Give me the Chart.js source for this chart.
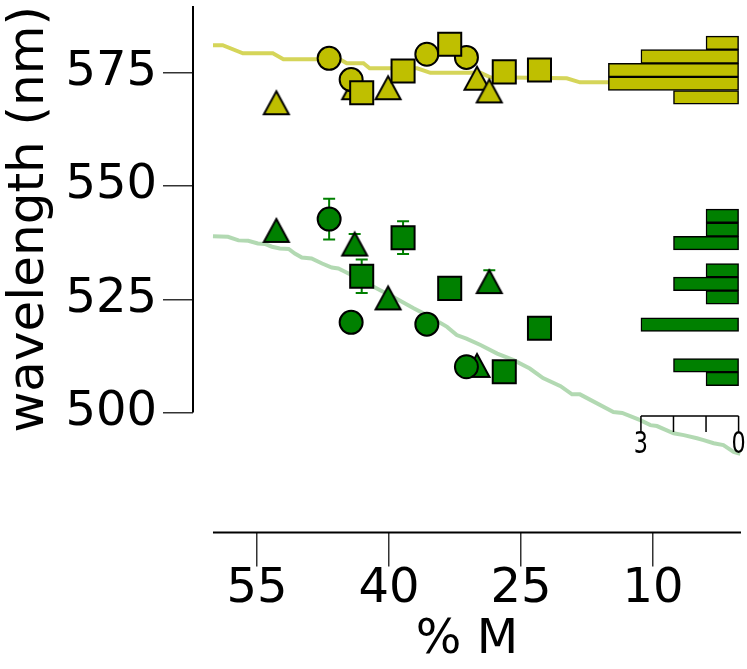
<!DOCTYPE html>
<html>
<head>
<meta charset="utf-8">
<script src="https://cdn.jsdelivr.net/npm/chart.js@4"></script>
<style>
  html, body { margin: 0; padding: 0; background: #fff; }
</style>
</head>
<body>
<canvas id="chart" width="747" height="669"></canvas>
<script>
/* ======================
   DATA
====================== */

// circles
const circleM = [46.8, 44.3, 35.7, 31.2];
const circleYellow = [578.2, 573.5, 579.1, 578.4];
const circleGreen = [542.7, 519.9, 519.5, 510.1];

// squares
const squareM = [43.1, 38.4, 33.1, 26.9, 22.9];
const squareYellow = [570.6, 575.4, 581.3, 575.2, 575.6];
const squareGreen = [530.1, 538.6, 527.4, 509.0, 518.6];

// triangles
const triangleM = [52.8, 43.9, 40.1, 30.0, 28.6];
const triangleYellow = [568.4, 571.7, 571.7, 573.8, 571.0];
const triangleGreen = [540.2, 537.2, 525.3, 510.4, 528.9];

// error bars on the green group
const errM = [46.8, 43.9, 43.1, 38.4, 28.6];
const errNm = [542.7, 537.2, 530.1, 538.6, 528.9];
const errSize = [4.5, 2.2, 3.7, 3.6, 2.5];

// model curves
const yellowLineM = [60, 58.9, 56.6, 53.2, 52.0, 45.6, 44.8, 42.9, 42.2, 36.8, 35.3, 29.6, 28.5, 19.8, 18.3, 1];
const yellowLineNm = [581.1, 581.1, 579.3, 579.3, 578.0, 578.0, 577.1, 577.1, 576.0, 576.0, 575.0, 575.0, 574.0, 573.8, 572.9, 572.9];

const greenLineM = [60, 58.3, 57.1, 56.0, 54.9, 54.1, 53.3, 52.4, 51.4, 50.7, 49.9, 48.8, 47.6, 46.5, 45.75, 44.6,
  41.0, 39.5, 37.2, 35.7, 33.4, 32.3, 31.2, 29.6, 27.7, 25.9, 24.0, 22.5, 20.5, 19.2, 18.3, 14.5, 13.5,
  11.45, 10.3, 9.55, 7.66, 6.5, 5.0, 4.25, 3.1, 2.0, 0.84, 0.08];
const greenLineNm = [538.9, 538.8, 538.0, 537.9, 537.3, 537.2, 536.6, 536.2, 536.1, 535.1, 534.2, 534.0, 532.9, 532.0, 531.8, 530.7,
  527.0, 525.5, 523.0, 521.5, 518.9, 517.1, 516.3, 514.9, 513.0, 511.6, 509.7, 507.6, 505.8, 504.0, 504.0, 500.1, 499.9,
  498.3, 497.2, 497.0, 495.4, 495.0, 494.3, 493.9, 493.2, 492.8, 491.3, 490.9];

// histograms (bin centre in nm, count)
const yellowBinNm = [569.6, 572.6, 575.6, 578.6, 581.6];
const yellowCounts = [2, 4, 4, 3, 1];
const greenBinNm = [507.4, 510.4, 519.4, 525.4, 528.4, 531.4, 537.4, 540.4, 543.4];
const greenCounts = [1, 2, 3, 1, 2, 1, 2, 1, 1];

// ticks
const ticksM = [55, 40, 25, 10];
const ticksNm = [500, 525, 550, 575];
const ticksCount = [3, 2, 1, 0];
const countAxisNm = 499.2;

/* ======================
   HELPERS
====================== */

const YELLOW = '#bfbf00';
const GREEN = '#008000';

const pts = (xs, ys) => xs.map((x, i) => ({ x, y: ys[i] }));

function triangleMark(fill) {
  const c = document.createElement('canvas');
  c.width = 30;
  c.height = 29;
  const g = c.getContext('2d');
  g.beginPath();
  g.moveTo(15, 3);
  g.lineTo(27.5, 26);
  g.lineTo(2.5, 26);
  g.closePath();
  g.fillStyle = fill;
  g.fill();
  g.lineWidth = 2;
  g.strokeStyle = '#000';
  g.stroke();
  return c;
}

function markers(label, data, fill, style, radius) {
  return {
    type: 'scatter',
    label,
    data,
    pointStyle: style,
    pointRadius: radius,
    pointHoverRadius: radius,
    backgroundColor: fill,
    borderColor: '#000',
    borderWidth: 2,
    pointBorderWidth: 2
  };
}

function histogram(label, nm, counts, fill) {
  return {
    type: 'bar',
    label,
    indexAxis: 'y',
    xAxisID: 'x2',
    yAxisID: 'y',
    data: nm.map((v, i) => ({ x: counts[i], y: v })),
    backgroundColor: fill,
    borderColor: '#000',
    borderWidth: 1.5,
    borderSkipped: false,
    barThickness: 13.6,
    grouped: false
  };
}

function curve(label, data, color) {
  return {
    type: 'line',
    label,
    data,
    borderColor: color,
    borderWidth: 4,
    pointRadius: 0,
    tension: 0,
    fill: false
  };
}

/* ======================
   PLUGINS
====================== */

const errorBars = {
  id: 'errorBars',
  beforeDatasetsDraw(chart) {
    const { ctx, scales: { x, y } } = chart;
    ctx.save();
    ctx.strokeStyle = GREEN;
    ctx.lineWidth = 2;
    errM.forEach((m, i) => {
      const px = x.getPixelForValue(m);
      const top = y.getPixelForValue(errNm[i] + errSize[i]);
      const bot = y.getPixelForValue(errNm[i] - errSize[i]);
      ctx.beginPath();
      ctx.moveTo(px, top); ctx.lineTo(px, bot);
      ctx.moveTo(px - 6, top); ctx.lineTo(px + 6, top);
      ctx.moveTo(px - 6, bot); ctx.lineTo(px + 6, bot);
      ctx.stroke();
    });
    ctx.restore();
  }
};

const spines = {
  id: 'spines',
  afterDraw(chart) {
    const { ctx, chartArea, scales: { x, y, x2 } } = chart;
    ctx.save();
    ctx.strokeStyle = '#000';
    ctx.lineWidth = 2;
    ctx.beginPath();
    ctx.moveTo(chartArea.left, y.getPixelForValue(500));
    ctx.lineTo(chartArea.left, chartArea.top);
    ctx.moveTo(x.getPixelForValue(60), chartArea.bottom);
    ctx.lineTo(x.getPixelForValue(0), chartArea.bottom);
    ctx.stroke();

    // count scale of the histograms
    const cy = y.getPixelForValue(countAxisNm);
    ctx.lineWidth = 1.5;
    ctx.beginPath();
    ctx.moveTo(x2.getPixelForValue(3), cy);
    ctx.lineTo(x2.getPixelForValue(0), cy);
    ticksCount.forEach(c => {
      const px = x2.getPixelForValue(c);
      ctx.moveTo(px, cy);
      ctx.lineTo(px, cy + 16);
    });
    ctx.stroke();
    ctx.fillStyle = '#000';
    ctx.font = '31px "DejaVu Sans Condensed", "DejaVu Sans"';
    ctx.textAlign = 'center';
    ctx.textBaseline = 'top';
    [3, 0].forEach(c => {
      const px = x2.getPixelForValue(c);
      ctx.save();
      ctx.translate(px, cy + 13);
      ctx.scale(0.8, 1);
      ctx.fillText(String(c), 0, 0);
      ctx.restore();
    });
    ctx.restore();
  }
};

/* ======================
   CHART
====================== */

Chart.defaults.font.family = '"DejaVu Sans", sans-serif';
Chart.defaults.color = '#000';

new Chart(document.getElementById('chart').getContext('2d'), {
  type: 'scatter',
  data: {
    datasets: [
      markers('green squares', pts(squareM, squareGreen), GREEN, 'rect', 16.3),
      markers('yellow squares', pts(squareM, squareYellow), YELLOW, 'rect', 16.3),
      markers('green circles', pts(circleM, circleGreen), GREEN, 'circle', 11.5),
      markers('yellow circles', pts(circleM, circleYellow), YELLOW, 'circle', 11.5),
      markers('green triangles', pts(triangleM, triangleGreen), GREEN, triangleMark(GREEN), 14),
      markers('yellow triangles', pts(triangleM, triangleYellow), YELLOW, triangleMark(YELLOW), 14),
      histogram('green counts', greenBinNm, greenCounts, GREEN),
      histogram('yellow counts', yellowBinNm, yellowCounts, YELLOW),
      curve('green model', pts(greenLineM, greenLineNm), 'rgba(0,128,0,0.3)'),
      curve('yellow model', pts(yellowLineM, yellowLineNm), 'rgba(191,191,0,0.65)')
    ]
  },
  options: {
    responsive: false,
    animation: false,
    layout: { autoPadding: false, padding: { top: 6, right: 6, left: 0, bottom: 0 } },
    plugins: {
      legend: { display: false },
      tooltip: { enabled: false }
    },
    scales: {
      x: {
        type: 'linear',
        reverse: true,
        min: 0,
        max: 62.27,
        offset: false,
        afterBuildTicks: s => { s.ticks = ticksM.map(v => ({ value: v })); },
        afterFit: s => { s.height = 136.5; s.paddingLeft = 0; s.paddingRight = 0; },
        border: { display: false },
        grid: { drawOnChartArea: false, offset: false, tickLength: 34, color: '#333', lineWidth: 1.5 },
        ticks: { autoSkip: false, maxRotation: 0, font: { size: 48 }, padding: -6 },
        title: { display: true, text: '% M', font: { size: 48 }, padding: 0 }
      },
      y: {
        type: 'linear',
        min: 473.5,
        max: 589.75,
        offset: false,
        afterBuildTicks: s => { s.ticks = ticksNm.map(v => ({ value: v })); },
        afterFit: s => { s.width = 193; s.paddingTop = 0; s.paddingBottom = 0; },
        border: { display: false },
        grid: { drawOnChartArea: false, offset: false, tickLength: 30, color: '#333', lineWidth: 1.5 },
        ticks: { autoSkip: false, font: { size: 48 }, padding: 6 },
        title: { display: true, text: 'wavelength (nm)', align: 'end', font: { size: 50 }, padding: 0 }
      },
      x2: {
        type: 'linear',
        display: false,
        reverse: true,
        min: -0.074,
        max: 16.76,
        offset: false,
        grid: { offset: false }
      }
    }
  },
  plugins: [errorBars, spines]
});
</script>
</body>
</html>
